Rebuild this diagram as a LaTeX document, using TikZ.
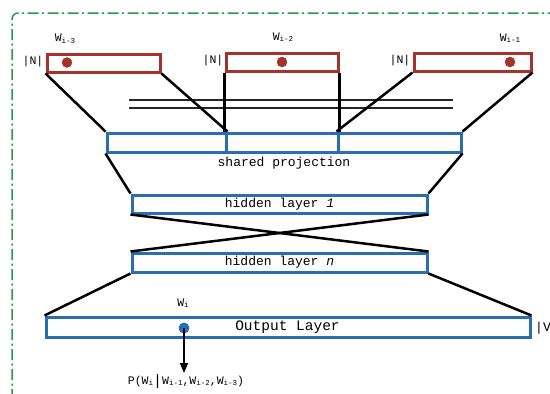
\documentclass[tikz,border=0pt]{standalone}
\usepackage{fontspec}
\setmonofont{Liberation Mono}
\usetikzlibrary{arrows.meta}
\definecolor{wred}{HTML}{A5322B}
\definecolor{lblue}{HTML}{2A6DB3}
\definecolor{fgreen}{HTML}{249A4F}
\newcommand{\wsub}[1]{W\raisebox{-0.25ex}{\fontsize{7.5}{8}\selectfont #1}}
\begin{document}
\begin{tikzpicture}[x=1pt,y=-1pt,
  inbox/.style={draw=wred, line width=3pt, inner sep=0pt, minimum height=18pt},
  layerbox/.style={draw=lblue, line width=3pt, inner sep=0pt, font=\ttfamily\fontsize{13}{13}\selectfont},
  conn/.style={line width=2.5pt, black},
  thin/.style={line width=1.4pt, black!85},
  wdot/.style={circle, fill=wred, inner sep=0pt, minimum size=10.5pt},
  odot/.style={circle, fill=lblue, inner sep=0pt, minimum size=11pt},
  lbl/.style={font=\ttfamily\fontsize{11.5}{12}\selectfont, inner sep=0pt},
  frame/.style={draw=fgreen, line width=1.5pt, dash pattern=on 11pt off 3.5pt on 2pt off 3.5pt, rounded corners=6pt}
]
\useasboundingbox (0,0) rectangle (550,394);
\clip (0,0) rectangle (550,394);
\draw[frame] (12,400) -- (12,13) -- (580,13);

% input word boxes
\node[inbox, minimum width=113pt] (b1) at (103.5,63) {};
\node[inbox, minimum width=112pt] (b2) at (282,62) {};
\node[inbox, minimum width=117pt] (b3) at (472.5,62) {};
\node[wdot] (d1) at (67,62.5) {};
\node[wdot] (d2) at (282,62) {};
\node[wdot] (d3) at (510,62) {};
\node[lbl] (w1) at (65,39) {\wsub{i-3}};
\node[lbl] (w2) at (283,37) {\wsub{i-2}};
\node[lbl] (w3) at (510,38) {\wsub{i-1}};
\node[lbl] (n1) at (33,62) {|N|};
\node[lbl] (n2) at (213,61) {|N|};
\node[lbl] (n3) at (400,61) {|N|};

% shared projection
\node[layerbox, minimum width=119pt, minimum height=19pt] (p1) at (166.5,142.5) {};
\node[layerbox, minimum width=112pt, minimum height=19pt] (p2) at (282,142.5) {};
\node[layerbox, minimum width=123pt, minimum height=19pt] (p3) at (399.5,142.5) {};
\node[font=\ttfamily\fontsize{13}{13}\selectfont, inner sep=0pt] (sp) at (284,163) {shared projection};

% crossing horizontal lines
\coordinate (l1a) at (129,100);
\coordinate (l1b) at (453,100);
\coordinate (l2a) at (129,108);
\coordinate (l2b) at (453,108);
\draw[thin] (l1a) -- (l1b);
\draw[thin] (l2a) -- (l2b);

\draw[conn] (b1.south west) -- (p1.north west);
\draw[conn] (b1.south east) -- (p1.north east);
\draw[conn] (b2.south west) -- (p2.north west);
\draw[conn] (b2.south east) -- (p2.north east);
\draw[conn] (b3.south west) -- (p3.north west);
\draw[conn] (b3.south east) -- (p3.north east);

% hidden layers
\node[layerbox, minimum width=295pt, minimum height=18pt] (h1) at (279.5,204) {hidden layer \textit{1}};
\node[layerbox, minimum width=295pt, minimum height=19pt] (hn) at (279.5,262.5) {hidden layer \textit{n}};
\draw[conn] (p1.south west) -- (h1.north west);
\draw[conn] (p3.south east) -- (h1.north east);
\draw[conn] (h1.south west) -- (hn.north east);
\draw[conn] (h1.south east) -- (hn.north west);

% output layer
\node[layerbox, minimum width=484pt, minimum height=20pt, font=\ttfamily\fontsize{14.5}{14.5}\selectfont] (out) at (288,327) {\hspace*{-1pt}Output Layer};
\draw[conn] (hn.south west) -- (out.north west);
\draw[conn] (hn.south east) -- (out.north east);
\node[odot] (od) at (184,328) {};
\node[lbl] (wi) at (183,303) {\wsub{i}};
\node[lbl, anchor=west] (v) at (535,328) {\fontsize{13}{13}\selectfont|V};
\coordinate (tip) at (184,373);
\draw[line width=1.4pt, -{Triangle[length=10pt,width=8pt]}] (od.center) -- (tip);
\node[lbl, anchor=center] (pl) at (186,382) {P(\wsub{i}\raisebox{-0.3ex}{\fontsize{15}{15}\selectfont|}\wsub{i-1},\wsub{i-2},\wsub{i-3})};
\end{tikzpicture}
\end{document}
